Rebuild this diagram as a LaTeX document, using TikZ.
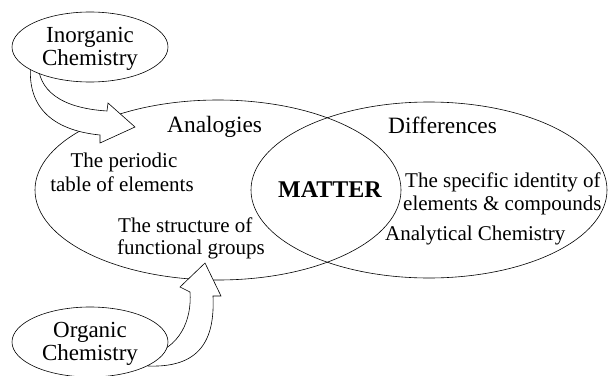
\documentclass[tikz,border=0pt]{standalone}
\usepackage{fontspec}
\setmainfont{Liberation Serif}
\begin{document}
\begin{tikzpicture}[x=1pt,y=-1pt,
  outline/.style={draw=black,line width=0.6pt},
  blockarrow/.style={draw=black,fill=white,line width=0.6pt,line join=miter},
  lbl/.style={inner sep=0pt,anchor=base west,font=\fontsize{21}{21}\selectfont},
  head/.style={inner sep=0pt,anchor=base west,font=\fontsize{23.4}{23.4}\selectfont},
  chem/.style={inner sep=0pt,anchor=base,font=\fontsize{23}{23}\selectfont}]
\useasboundingbox (0,0) rectangle (608,375);
% big Venn ellipses
\draw[outline] (218,190) ellipse [x radius=183pt, y radius=90pt];
\draw[outline] (429,190) ellipse [x radius=178pt, y radius=88pt];
% block arrows
\draw[blockarrow] (31,62) .. controls (26,105) and (50,130) .. (100,135)
  -- (100,143) -- (135,127) -- (108,103) -- (107,111)
  .. controls (60,108) and (38,90) .. (38,62) -- cycle;
\draw[blockarrow] (148,356) .. controls (180,348) and (192,320) .. (190,292)
  -- (180,287) -- (205,263) -- (221,296) -- (213,296)
  .. controls (215,340) and (200,368) .. (148,366) -- cycle;
% small ellipses
\draw[outline,fill=white] (90,47) ellipse [x radius=78pt, y radius=35pt];
\draw[outline,fill=white] (90,342) ellipse [x radius=78pt, y radius=35pt];
% texts
\node[chem] (inorg1) at (90,42) {Inorganic};
\node[chem] (inorg2) at (90,65) {Chemistry};
\node[chem] (org1) at (90,337) {Organic};
\node[chem] (org2) at (90,360) {Chemistry};
\node[head] (analog) at (167,132) {Analogies};
\node[head] (diff) at (388,133) {Differences};
\node[inner sep=0pt,anchor=base west,font=\fontsize{24}{24}\selectfont\bfseries] (matter) at (278,197) {MATTER};
\node[lbl,anchor=base] (per1) at (124,167) {The periodic};
\node[lbl,anchor=base] (per2) at (122,191) {table of elements};
\node[lbl] (str1) at (118,232) {The structure of};
\node[lbl] (str2) at (117,254) {functional groups};
\node[lbl] (spec1) at (405,187) {The specific identity of};
\node[lbl] (spec2) at (403,210) {elements \& compounds};
\node[lbl] (anal) at (385,240) {Analytical Chemistry};
\end{tikzpicture}
\end{document}
